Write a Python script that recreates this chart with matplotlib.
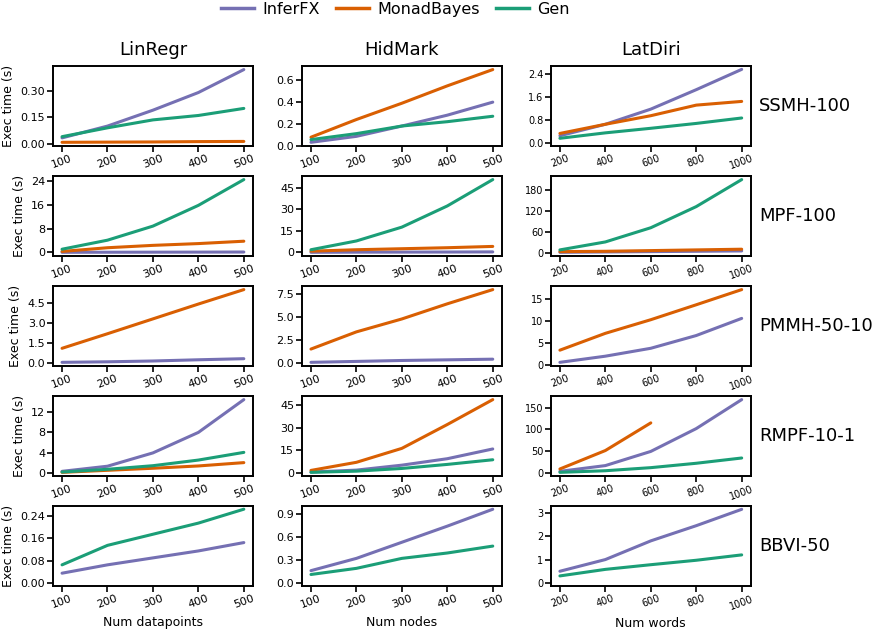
import numpy as np
import matplotlib
matplotlib.use("Agg")
import matplotlib.pyplot as plt
from matplotlib.lines import Line2D

# x values per benchmark column
benchmarks = ["LinRegr", "HidMark", "LatDiri"]
xlabels = ["Num datapoints", "Num nodes", "Num words"]
x_small = [100, 200, 300, 400, 500]
x_words = [200, 400, 600, 800, 1000]
algorithms = ["SSMH-100", "MPF-100", "PMMH-50-10", "RMPF-10-1", "BBVI-50"]
systems = ["InferFX", "MonadBayes", "Gen"]
colors = {"InferFX": "#7570b3", "MonadBayes": "#d95f02", "Gen": "#1b9e77"}

# exec times (s); None = no run
ssmh_linregr = {"InferFX": [0.033, 0.10, 0.19, 0.29, 0.42],
                "MonadBayes": [0.008, 0.009, 0.010, 0.012, 0.013],
                "Gen": [0.04, 0.09, 0.135, 0.16, 0.20]}
ssmh_hidmark = {"InferFX": [0.03, 0.085, 0.18, 0.28, 0.40],
                "MonadBayes": [0.077, 0.24, 0.39, 0.55, 0.70],
                "Gen": [0.055, 0.11, 0.18, 0.22, 0.27]}
ssmh_latdiri = {"InferFX": [0.25, 0.65, 1.18, 1.86, 2.57],
                "MonadBayes": [0.33, 0.65, 0.95, 1.32, 1.45],
                "Gen": [0.16, 0.35, 0.51, 0.68, 0.87]}

mpf_linregr = {"InferFX": [0.05, 0.08, 0.10, 0.12, 0.15],
               "MonadBayes": [0.35, 1.6, 2.4, 3.0, 3.8],
               "Gen": [1.1, 4.15, 8.9, 15.9, 24.6]}
mpf_hidmark = {"InferFX": [0.1, 0.2, 0.25, 0.3, 0.4],
               "MonadBayes": [0.9, 1.9, 2.6, 3.3, 4.2],
               "Gen": [1.9, 8.0, 17.6, 32.3, 50.6]}
mpf_latdiri = {"InferFX": [1, 2, 3, 4, 5],
               "MonadBayes": [3, 4, 6, 8, 10],
               "Gen": [8, 31, 72, 133, 211]}

pmmh_linregr = {"InferFX": [0.08, 0.12, 0.18, 0.27, 0.35],
                "MonadBayes": [1.12, 2.2, 3.3, 4.4, 5.47],
                "Gen": None}
pmmh_hidmark = {"InferFX": [0.1, 0.2, 0.3, 0.37, 0.44],
                "MonadBayes": [1.53, 3.38, 4.77, 6.4, 7.93],
                "Gen": None}
pmmh_latdiri = {"InferFX": [0.6, 2.0, 3.8, 6.7, 10.6],
                "MonadBayes": [3.37, 7.2, 10.3, 13.7, 17.15],
                "Gen": None}

rmpf_linregr = {"InferFX": [0.4, 1.4, 4.0, 8.0, 14.4],
                "MonadBayes": [0.2, 0.6, 1.0, 1.45, 2.1],
                "Gen": [0.26, 0.8, 1.5, 2.6, 4.1]}
rmpf_hidmark = {"InferFX": [0.5, 1.8, 5.1, 9.4, 15.9],
                "MonadBayes": [1.6, 7.0, 16.3, 32.2, 48.8],
                "Gen": [0.3, 1.1, 2.9, 5.6, 8.7]}
rmpf_latdiri = {"InferFX": [4.6, 17.7, 50, 102, 168],
                "MonadBayes": [10, 52, 115, None, None],
                "Gen": [2.3, 6, 13, 23, 35]}

bbvi_linregr = {"InferFX": [0.035, 0.065, 0.09, 0.115, 0.145],
                "MonadBayes": None,
                "Gen": [0.065, 0.135, 0.175, 0.215, 0.265]}
bbvi_hidmark = {"InferFX": [0.16, 0.32, 0.53, 0.74, 0.96],
                "MonadBayes": None,
                "Gen": [0.11, 0.19, 0.32, 0.39, 0.48]}
bbvi_latdiri = {"InferFX": [0.5, 1.0, 1.8, 2.45, 3.15],
                "MonadBayes": None,
                "Gen": [0.3, 0.58, 0.78, 0.97, 1.2]}

table = [[ssmh_linregr, ssmh_hidmark, ssmh_latdiri],
         [mpf_linregr, mpf_hidmark, mpf_latdiri],
         [pmmh_linregr, pmmh_hidmark, pmmh_latdiri],
         [rmpf_linregr, rmpf_hidmark, rmpf_latdiri],
         [bbvi_linregr, bbvi_hidmark, bbvi_latdiri]]

# y tick positions per panel
yticks = [[[0.0, 0.15, 0.30], [0.0, 0.2, 0.4, 0.6], [0.0, 0.8, 1.6, 2.4]],
          [[0, 8, 16, 24], [0, 15, 30, 45], [0, 60, 120, 180]],
          [[0.0, 1.5, 3.0, 4.5], [0.0, 2.5, 5.0, 7.5], [0, 5, 10, 15]],
          [[0, 4, 8, 12], [0, 15, 30, 45], [0, 50, 100, 150]],
          [[0.0, 0.08, 0.16, 0.24], [0.0, 0.3, 0.6, 0.9], [0, 1, 2, 3]]]
ytick_fmt = [["%.2f", "%.1f", "%.1f"],
             ["%d", "%d", "%d"],
             ["%.1f", "%.1f", "%d"],
             ["%d", "%d", "%d"],
             ["%.2f", "%.1f", "%d"]]

fig, axes = plt.subplots(5, 3, figsize=(8.74, 6.34), dpi=100)
fig.subplots_adjust(left=0.0606, right=0.859, top=0.896, bottom=0.0757,
                    wspace=0.245, hspace=0.375)

for r in range(5):
    for c in range(3):
        ax = axes[r, c]
        xs = x_words if c == 2 else x_small
        data = table[r][c]
        for s in systems:
            ys = data[s]
            if ys is None:
                continue
            pts = [(x, y) for x, y in zip(xs, ys) if y is not None]
            px, py = zip(*pts)
            ax.plot(px, py, color=colors[s], lw=2.2, solid_capstyle="round")
        fs = 7 if c == 2 else 8
        ax.set_xticks(xs)
        ax.set_xticklabels([str(x) for x in xs], rotation=20, fontsize=fs)
        ax.set_yticks(yticks[r][c])
        ax.set_yticklabels([ytick_fmt[r][c] % v for v in yticks[r][c]], fontsize=fs)
        ax.tick_params(direction="out", length=4, width=1.2, pad=1.5)
        for sp in ax.spines.values():
            sp.set_linewidth(1.4)
        ax.margins(x=0.05, y=0.05)
        lo, hi = ax.get_ylim()
        if lo > 0:
            ax.set_ylim(-0.04 * hi, hi)
        if c == 0:
            ax.set_ylabel("Exec time (s)", fontsize=9)
        if r == 0:
            ax.set_title(benchmarks[c], fontsize=13, pad=8)
        if r == 4:
            ax.set_xlabel(xlabels[c], fontsize=9)
    axes[r, 2].text(1.04, 0.5, algorithms[r], transform=axes[r, 2].transAxes,
                    fontsize=13, va="center", ha="left")

handles = [Line2D([0], [0], color=colors[s], lw=2.5) for s in systems]
fig.legend(handles, systems, loc="upper center", bbox_to_anchor=(0.452, 1.02),
           ncol=3, frameon=False, fontsize=11.5, handlelength=2.1,
           handletextpad=0.5, columnspacing=1.0)

fig.savefig("out.png", dpi=100)
